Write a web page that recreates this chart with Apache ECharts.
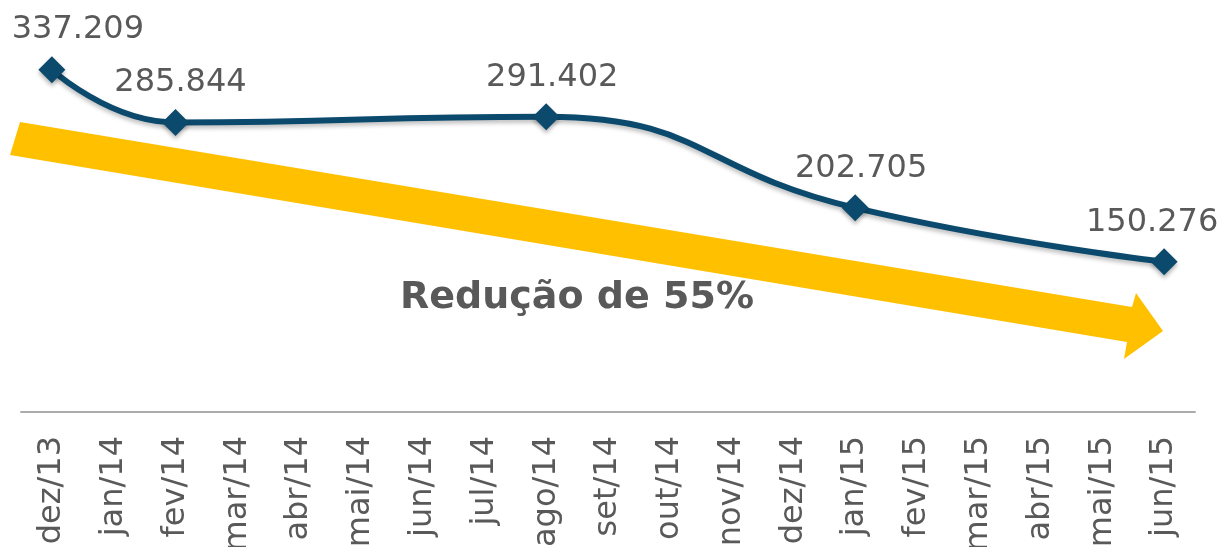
<!DOCTYPE html>
<html>
<head>
<meta charset="utf-8">
<script src="https://cdn.jsdelivr.net/npm/echarts@6/dist/echarts.min.js"></script>
<style>
    html, body { margin: 0; padding: 0; background: #fff; }
    #chart { width: 1219px; height: 547px; }
</style>
</head>
<body>
<div id="chart"></div>
<script>
// meses do eixo
const months = ["dez/13", "jan/14", "fev/14", "mar/14", "abr/14", "mai/14", "jun/14", "jul/14", "ago/14",
    "set/14", "out/14", "nov/14", "dez/14", "jan/15", "fev/15", "mar/15", "abr/15", "mai/15", "jun/15"];
// valores medidos (null = sem medicao)
const values = [337.209, null, 285.844, null, null, null, null, null, 291.402,
    null, null, null, null, 202.705, null, null, null, null, 150.276];
// deslocamento horizontal dos rotulos
const labelShift = [26, 0, 5, 0, 0, 0, 0, 0, 6, 0, 0, 0, 0, 6, 0, 0, 0, 0, -12];
const reductionText = "Redução de 55%";

const fmt = v => v.toFixed(3);

let chart = echarts.init(document.getElementById("chart"));
let option = {
    animation: false,
    grid: {
        left: 21,
        right: 24,
        top: 1,
        bottom: 135,
        outerBoundsMode: "none"
    },
    xAxis: {
        type: "category",
        data: months,
        boundaryGap: true,
        axisLine: { show: true, lineStyle: { color: "#acacac", width: 2 } },
        axisTick: { show: false },
        axisLabel: {
            rotate: 90,
            margin: 24,
            interval: 0,
            color: "#595959",
            fontFamily: "DejaVu Sans",
            fontSize: 32
        }
    },
    yAxis: {
        type: "value",
        min: 4,
        max: 404,
        show: false,
        splitLine: { show: false }
    },
    graphic: [
        {
            type: "polygon",
            z: 1,
            shape: {
                points: [[20, 122], [1132, 307], [1136, 293], [1163, 331], [1124, 359], [1127, 342], [10, 155]]
            },
            style: { fill: "#FFC000" }
        },
        {
            type: "text",
            z: 2,
            left: 400,
            top: 279,
            style: {
                text: reductionText,
                fill: "#595959",
                font: "bold 38px 'DejaVu Sans'"
            }
        }
    ],
    series: [
        {
            type: "line",
            z: 5,
            data: values.map((v, i) => v === null ? null : {
                value: v,
                label: { offset: [labelShift[i], 0] }
            }),
            connectNulls: true,
            smooth: 0.5,
            symbol: "diamond",
            symbolSize: 27,
            showSymbol: true,
            lineStyle: {
                color: "#0b4a6c",
                width: 6,
                shadowColor: "rgba(0,0,0,0.25)",
                shadowBlur: 4,
                shadowOffsetY: 3
            },
            itemStyle: {
                color: "#0b4a6c",
                shadowColor: "rgba(0,0,0,0.3)",
                shadowBlur: 4,
                shadowOffsetY: 3
            },
            label: {
                show: true,
                position: "top",
                distance: 10,
                color: "#595959",
                fontFamily: "DejaVu Sans",
                fontSize: 32,
                formatter: p => fmt(p.value)
            }
        }
    ]
};
chart.setOption(option, true);
</script>
</body>
</html>
